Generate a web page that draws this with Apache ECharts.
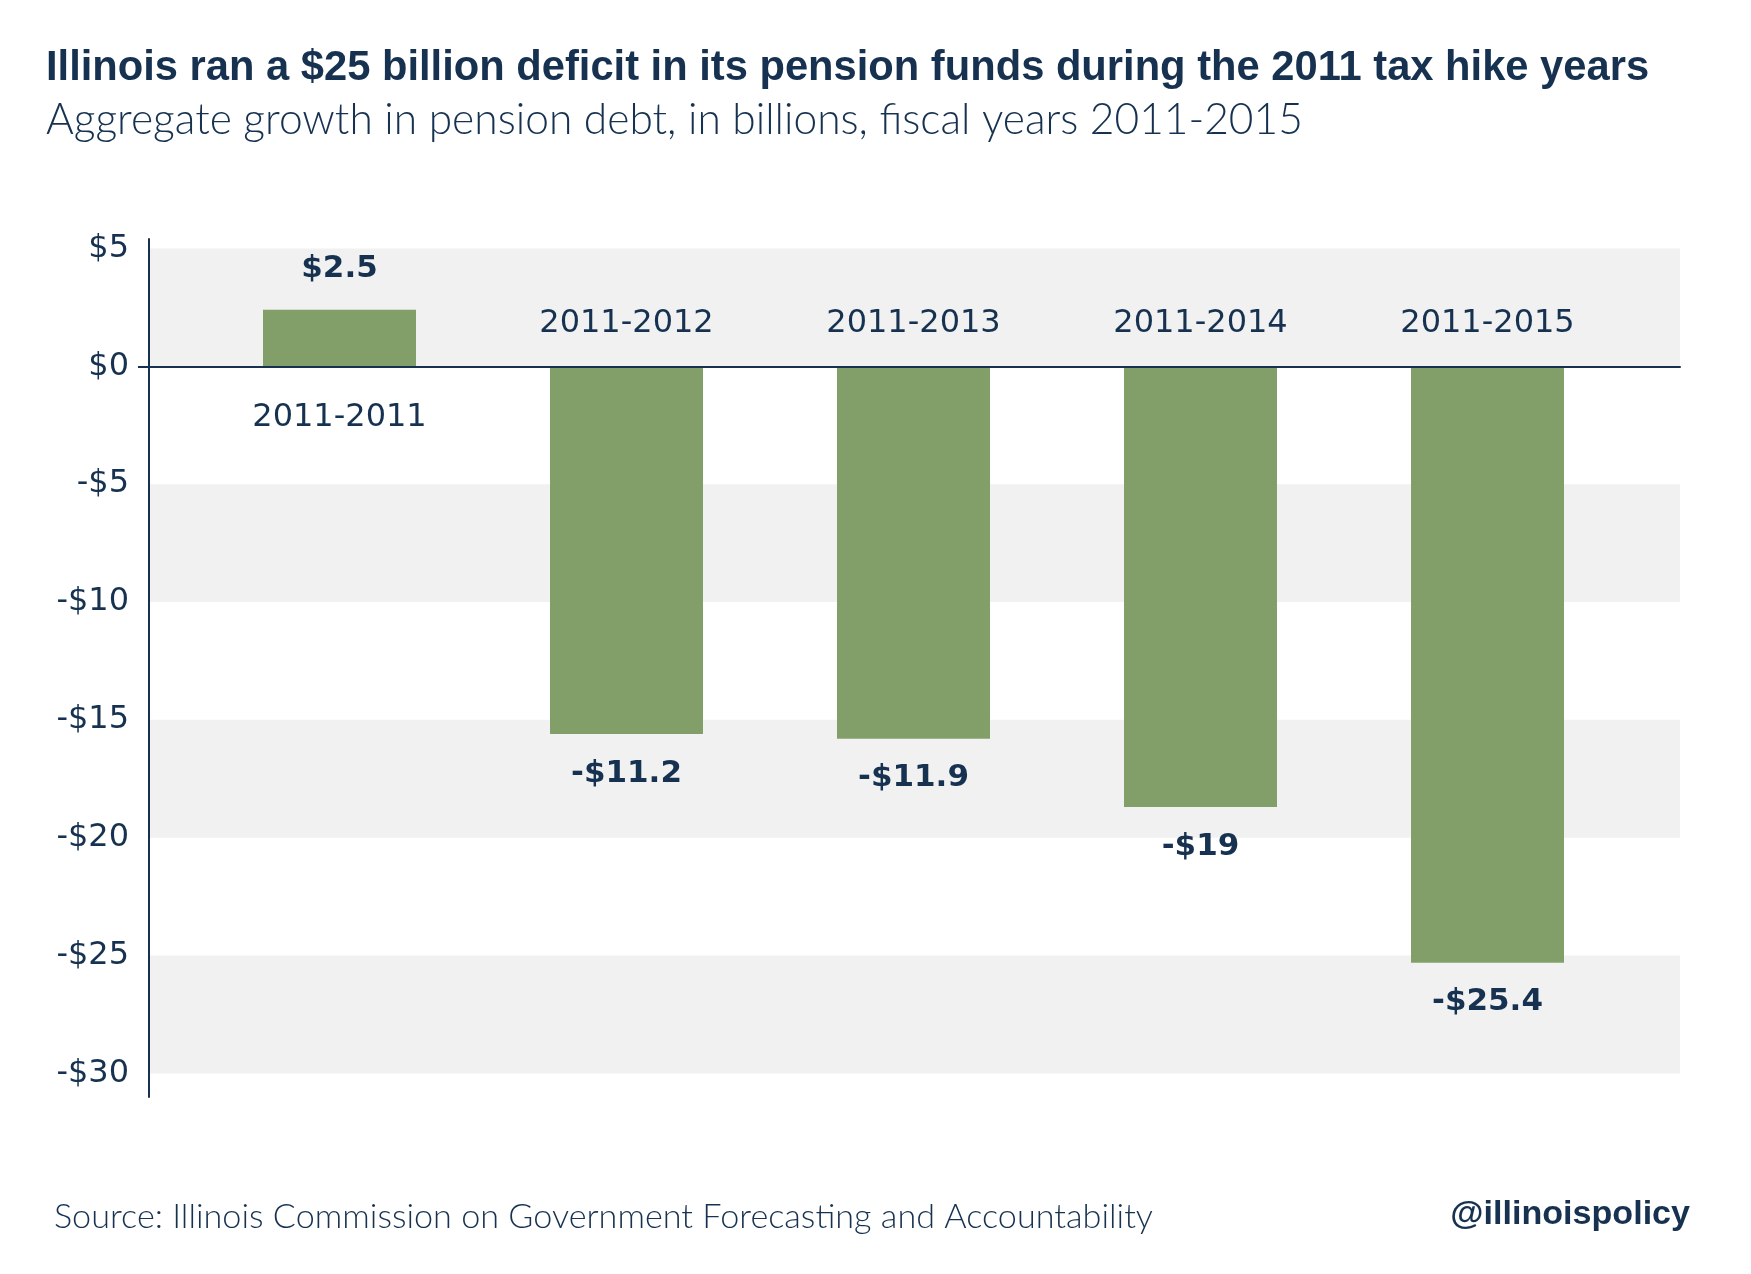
<!DOCTYPE html>
<html>
<head>
<meta charset="utf-8">
<script src="https://cdn.jsdelivr.net/npm/echarts@6/dist/echarts.min.js"></script>
<style>
html,body{margin:0;padding:0;background:#ffffff;}
#chart{width:1751px;height:1274px;}
</style>
</head>
<body>
<div id="chart"></div>
<script>
// ---------------- data ----------------
const titleText = 'Illinois ran a $25 billion deficit in its pension funds during the 2011 tax hike years';
const subtitleText = 'Aggregate growth in pension debt, in billions, fiscal years 2011-2015';
const sourceText = 'Source: Illinois Commission on Government Forecasting and Accountability';
const handleText = '@illinoispolicy';

const categories = ['2011-2011', '2011-2012', '2011-2013', '2011-2014', '2011-2015'];
// values printed on the bars (billions of dollars)
const labelValues = [2.5, -11.2, -11.9, -19, -25.4];
// bar lengths as drawn in the original, read against its own y axis
// (the original draws the 2011-2012 and 2011-2013 bars longer than their printed values)
const barLengths = [2.4, -15.6, -15.8, -18.7, -25.3];
// y-axis tick labels
const yTickValues = [5, 0, -5, -10, -15, -20, -25, -30];
// shaded horizontal bands between ticks
const bandRanges = [[5, 0], [-5, -10], [-15, -20], [-25, -30]];

// ---------------- style ----------------
const NAVY = '#163250';
const GREEN = '#839f69';
const BAND = '#f1f1f1';
const Y_MIN = -31, Y_MAX = 5.4;

function fitSize(text, weight, family, target, base) {
  const ctx = document.createElement('canvas').getContext('2d');
  ctx.font = weight + ' ' + base + 'px ' + family;
  const w = ctx.measureText(text).width;
  return Math.round(base * target / w * 10) / 10;
}
const TITLE_FONT = '"Liberation Sans", Arial, sans-serif';
const LIGHT_FONT = 'Lato, "Liberation Sans", sans-serif';
const titleSize = fitSize(titleText, 'bold', TITLE_FONT, 1603, 39);
const subSize = fitSize(subtitleText, '300', LIGHT_FONT, 1258, 40);
const srcSize = fitSize(sourceText, '300', LIGHT_FONT, 1101, 30);
const handleSize = fitSize(handleText, 'bold', TITLE_FONT, 240, 30);

function money(v) {
  return (v < 0 ? '-' : '') + '$' + Math.abs(v);
}

const chart = echarts.init(document.getElementById('chart'), null, {renderer: 'canvas'});

const option = {
  animation: false,
  backgroundColor: '#ffffff',
  grid: [
    {left: 149, right: 71, top: 239, bottom: 177},
    {left: 196, right: 120, top: 239, bottom: 177}
  ],
  xAxis: [
    {
      type: 'category', gridIndex: 0, data: categories, z: 10,
      axisLine: {show: true, onZero: true, lineStyle: {color: NAVY, width: 2}},
      axisTick: {show: false}, axisLabel: {show: false}, splitLine: {show: false}
    },
    {
      type: 'category', gridIndex: 1, data: categories, show: false
    }
  ],
  yAxis: [
    {
      type: 'value', gridIndex: 0, min: Y_MIN, max: Y_MAX, z: 10,
      axisLine: {show: true, lineStyle: {color: NAVY, width: 2}},
      axisTick: {show: true, customValues: [0], length: 11, lineStyle: {color: NAVY, width: 2}},
      axisLabel: {
        show: true, customValues: yTickValues, formatter: money, margin: 20,
        color: NAVY, fontSize: 32, fontFamily: '"DejaVu Sans", sans-serif'
      },
      splitLine: {show: false}, splitArea: {show: false}
    },
    {
      type: 'value', gridIndex: 1, min: Y_MIN, max: Y_MAX, show: false,
      splitLine: {show: false}
    }
  ],
  series: [
    {
      // background bands
      type: 'bar', xAxisIndex: 0, yAxisIndex: 0, silent: true,
      data: categories.map(() => '-'),
      markArea: {
        silent: true,
        itemStyle: {color: BAND},
        data: bandRanges.map(r => [{yAxis: r[0]}, {yAxis: r[1]}])
      }
    },
    {
      type: 'bar', xAxisIndex: 1, yAxisIndex: 1, barWidth: 153, z: 3,
      itemStyle: {color: GREEN},
      data: barLengths.map((v, i) => ({
        value: v,
        label: {
          show: true,
          position: v >= 0 ? 'top' : 'bottom',
          distance: v >= 0 ? 25 : 24,
          formatter: () => money(labelValues[i]),
          color: NAVY, fontSize: 31, lineHeight: 31, fontWeight: 'bold',
          fontFamily: '"DejaVu Sans", sans-serif'
        }
      }))
    },
    {
      // category names sitting on the zero line
      type: 'scatter', xAxisIndex: 1, yAxisIndex: 1, symbolSize: 1, silent: true, z: 4,
      itemStyle: {color: 'rgba(0,0,0,0)', opacity: 1},
      data: barLengths.map((v, i) => ({
        value: 0,
        label: {
          show: true,
          position: v >= 0 ? 'bottom' : 'top',
          distance: v >= 0 ? 35 : 26,
          formatter: () => categories[i],
          color: NAVY, opacity: 1, fontSize: 32, lineHeight: 32,
          fontFamily: '"DejaVu Sans", sans-serif'
        }
      }))
    }
  ],
  graphic: [
    {
      type: 'text', x: 46, y: 69, silent: true,
      style: {text: titleText, fill: NAVY, font: 'bold ' + titleSize + 'px ' + TITLE_FONT, verticalAlign: 'middle', align: 'left'}
    },
    {
      type: 'text', x: 46, y: 120, silent: true,
      style: {text: subtitleText, fill: NAVY, font: '300 ' + subSize + 'px ' + LIGHT_FONT, verticalAlign: 'middle', align: 'left'}
    },
    {
      type: 'text', x: 54, y: 1217, silent: true,
      style: {text: sourceText, fill: NAVY, font: '300 ' + srcSize + 'px ' + LIGHT_FONT, verticalAlign: 'middle', align: 'left'}
    },
    {
      type: 'text', x: 1690, y: 1215, silent: true,
      style: {text: handleText, fill: NAVY, font: 'bold ' + handleSize + 'px ' + TITLE_FONT, verticalAlign: 'middle', align: 'right'}
    }
  ]
};
chart.setOption(option);
</script>
</body>
</html>
